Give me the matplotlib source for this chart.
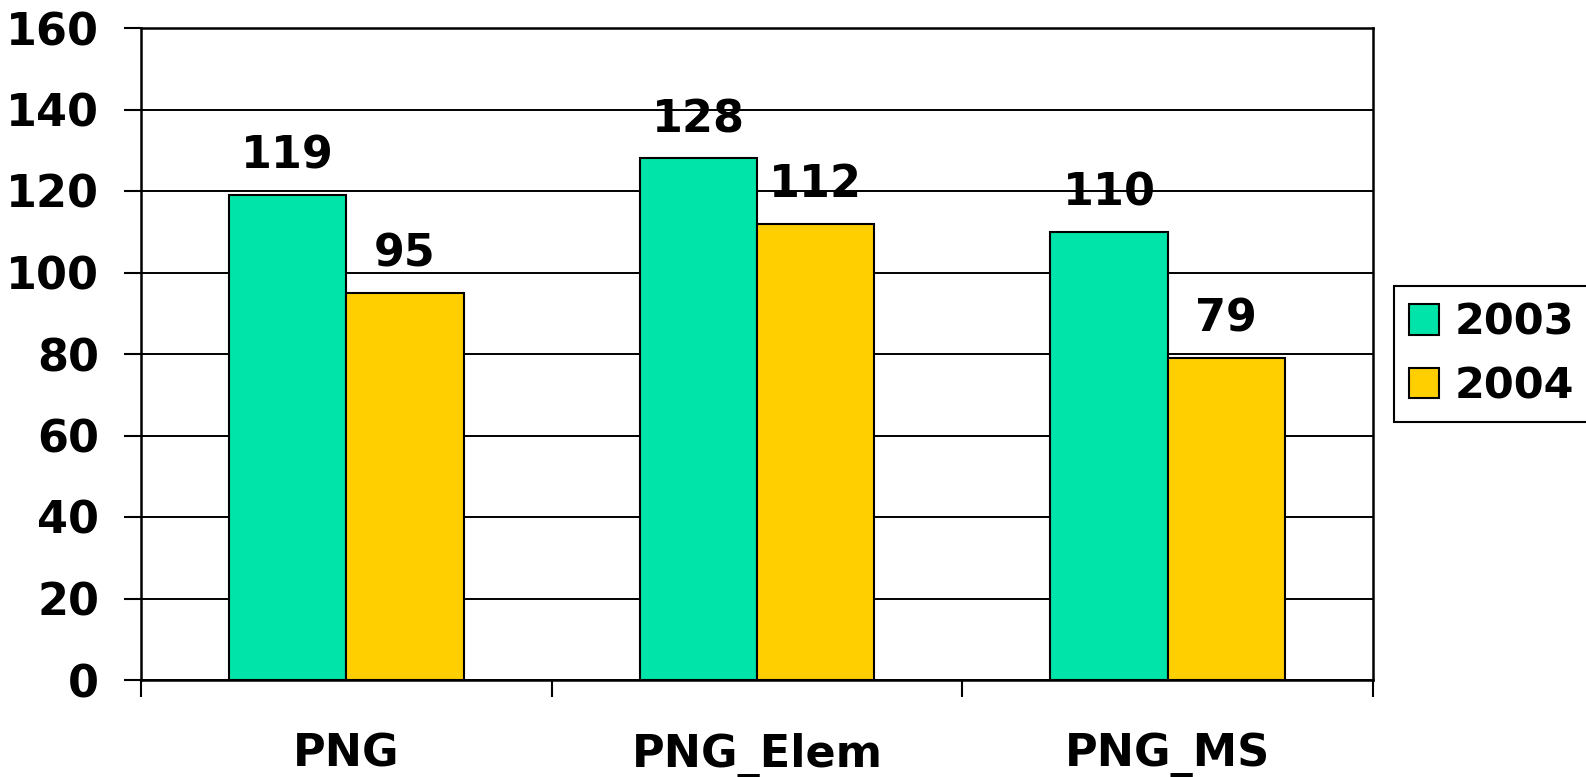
import matplotlib
matplotlib.use('Agg')
import matplotlib.pyplot as plt
import numpy as np

categories = ['PNG', 'PNG_Elem', 'PNG_MS']
series_names = ['2003', '2004']
values_2003 = [119, 128, 110]
values_2004 = [95, 112, 79]
yticks = [0, 20, 40, 60, 80, 100, 120, 140, 160]

colors = ['#00E4A9', '#FFCF00']

plt.rcParams['font.family'] = ['DejaVu Sans']
plt.rcParams['font.weight'] = 'bold'

fig = plt.figure(figsize=(15.86, 7.77), dpi=100)
ax = fig.add_axes([141 / 1586, 1 - 680 / 777, (1373 - 141) / 1586, (680 - 28) / 777])

x = np.arange(len(categories))
width = 1 / 3.5
for i, (name, vals) in enumerate(zip(series_names, [values_2003, values_2004])):
    offs = (i - 0.5) * width
    bars = ax.bar(x + offs, vals, width, color=colors[i], edgecolor='black',
                  linewidth=1.5, label=name, zorder=3)
    for b, v in zip(bars, vals):
        ax.annotate(str(v), (b.get_x() + b.get_width() / 2, v),
                    xytext=(0, 19), textcoords='offset points',
                    ha='center', va='baseline', fontsize=32, fontweight='bold')

ax.set_xlim(-0.5, len(categories) - 0.5)
ax.set_ylim(0, 160)
ax.set_yticks(yticks)
ax.set_yticklabels([str(t) for t in yticks])
ax.yaxis.grid(True, color='black', linewidth=1.4, zorder=0)
ax.set_axisbelow(True)

ax.set_xticks(x)
ax.set_xticklabels(categories)
ax.set_xticks(np.arange(len(categories) + 1) - 0.5, minor=True)
ax.tick_params(axis='x', which='major', length=0, pad=38, labelsize=32)
ax.tick_params(axis='x', which='minor', length=12, width=1.5, direction='out')
ax.tick_params(axis='y', length=12, width=1.5, pad=18, labelsize=32)

for s in ax.spines.values():
    s.set_linewidth(1.8)
    s.set_color('black')

leg = ax.legend(loc='center left', bbox_to_anchor=(0.879, 0.544),
                bbox_transform=fig.transFigure, fontsize=31,
                handlelength=0.7, handleheight=0.7, handletextpad=0.35,
                labelspacing=0.5, borderpad=0.35, borderaxespad=0,
                fancybox=False, framealpha=1, edgecolor='black')
leg.get_frame().set_linewidth(1.5)
for t in leg.get_texts():
    t.set_fontweight('bold')

fig.savefig('out.png', dpi=100)
